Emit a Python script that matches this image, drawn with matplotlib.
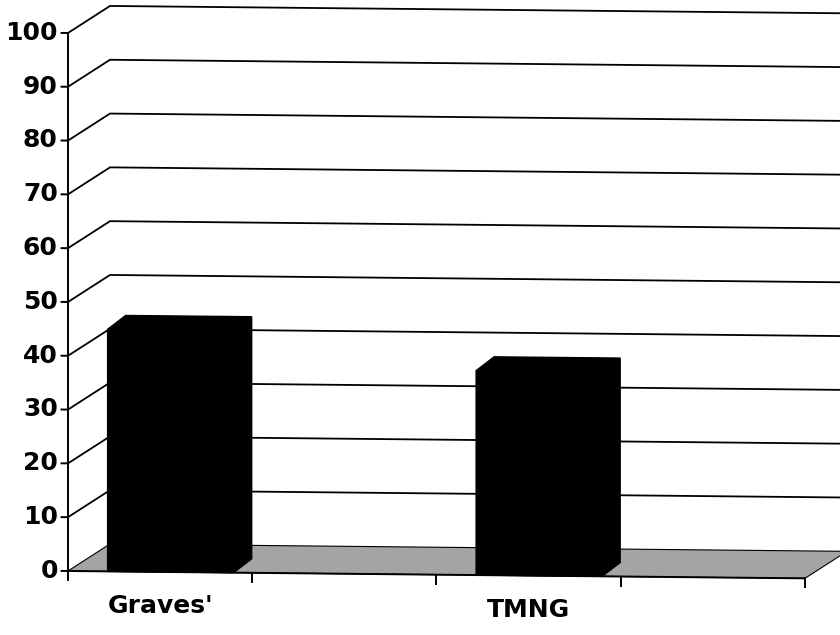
import numpy as np
import matplotlib.pyplot as plt
from matplotlib.patches import Polygon
from matplotlib.transforms import Affine2D

categories = ["Graves'", "", "TMNG", ""]
values = [45, np.nan, 38, np.nan]
yticks = list(range(0, 101, 10))

# oblique 3d look: depth offset of the back wall and of the bars (data units)
depth_dx, depth_dy = 0.228, 5.1
bar_dx, bar_dy = 0.098, 2.6
bar_off, bar_w = 0.215, 0.684

plt.rcParams['font.family'] = ['DejaVu Sans']

fig = plt.figure(figsize=(8.4, 6.35), dpi=100)
ax = fig.add_axes([0, 0, 1, 1])
ax.set_xlim(-0.369, 4.19)
ax.set_ylim(-11.9, 106.13)
ax.axis('off')

# the scanned original leans slightly downward to the right
tilt = Affine2D().translate(-68, 0).skew(0, np.arctan(-0.01)).translate(68, 0)
tr = ax.transData + tilt

n = len(categories)
right = n + depth_dx

# floor
floor = Polygon([(0, 0), (n, 0), (right, depth_dy), (depth_dx, depth_dy)],
                closed=True, facecolor='#a4a4a4', edgecolor='black', lw=0.8,
                zorder=1, transform=tr)
ax.add_patch(floor)

# gridlines on side and back walls
for v in yticks[1:]:
    ax.plot([0, depth_dx, right], [v, v + depth_dy, v + depth_dy],
            color='black', lw=1.3, zorder=2, solid_capstyle='butt', transform=tr)

# bars (front, top and side faces all black)
for i, v in enumerate(values):
    if np.isnan(v):
        continue
    x0 = i + bar_off
    x1 = x0 + bar_w
    pts = [(x0, 0), (x1, 0), (x1 + bar_dx, bar_dy), (x1 + bar_dx, v + bar_dy),
           (x0 + bar_dx, v + bar_dy), (x0, v)]
    ax.add_patch(Polygon(pts, closed=True, facecolor='black', edgecolor='black',
                         lw=1, zorder=3, transform=tr))

# value axis
ax.plot([0, 0], [0, 100], color='black', lw=1.4, zorder=4, transform=tr)
for v in yticks:
    ax.plot([-0.035, 0], [v, v], color='black', lw=1.4, zorder=4, transform=tr)
    ax.text(-0.055, v, str(v), ha='right', va='center', fontsize=18,
            fontweight='bold', transform=tr)

# category axis
ax.plot([0, n], [0, 0], color='black', lw=1.4, zorder=4, transform=tr)
for i in range(n + 1):
    ax.plot([i, i], [0, -1.7], color='black', lw=1.4, zorder=4, transform=tr)
for i, c in enumerate(categories):
    ax.text(i + 0.5, -6.4, c, ha='center', va='center', fontsize=18,
            fontweight='bold', transform=tr)

fig.savefig('out.png', dpi=100)
